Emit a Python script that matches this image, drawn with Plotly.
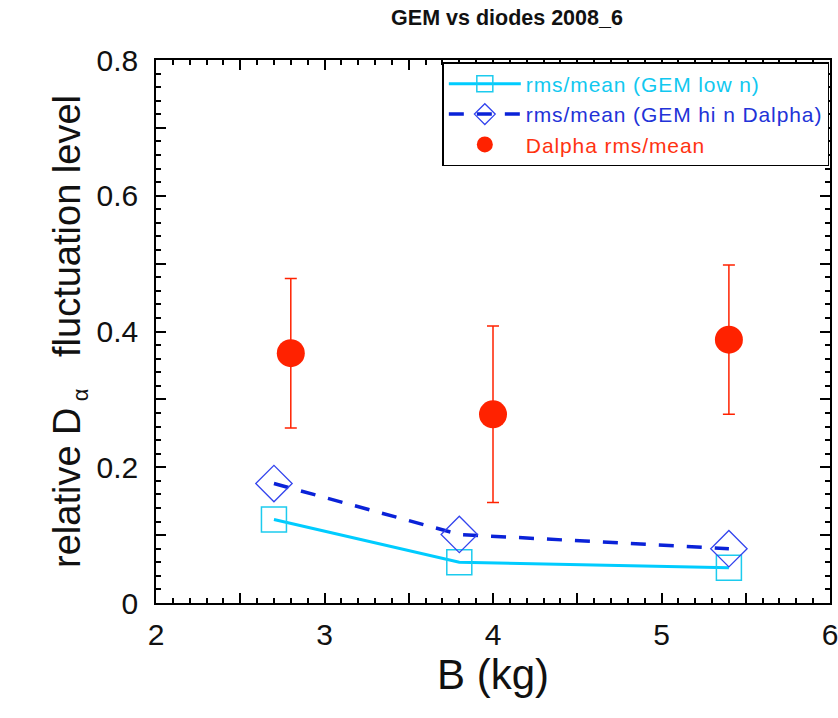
import plotly.graph_objects as go

# Data
b_gem = [2.7, 3.8, 5.4]
gem_low = [0.123, 0.060, 0.052]
gem_hi = [0.176, 0.101, 0.080]

b_diode = [2.8, 4.0, 5.4]
dalpha = [0.368, 0.278, 0.388]
dalpha_err = [0.11, 0.13, 0.11]

x_tickvals = [2, 2.5, 3, 3.5, 4, 4.5, 5, 5.5, 6]
x_ticktext = ["2", "", "3", "", "4", "", "5", "", "6"]
y_tickvals = [0, 0.1, 0.2, 0.3, 0.4, 0.5, 0.6, 0.7, 0.8]
y_ticktext = ["0", "", "0.2", "", "0.4", "", "0.6", "", "0.8"]

CYAN = "#00CCFF"
BLUE = "#0A22D8"
RED = "#FF2200"
FONT = "Liberation Sans, Arial, sans-serif"
LS = "letter-spacing:0.9px"

fig = go.Figure()

fig.add_trace(go.Scatter(
    x=b_gem, y=gem_low, mode="lines+markers", legendgroup="a",
    name=f"<span style='color:#11C8F0;{LS}'>rms/mean (GEM low n)</span>",
    line=dict(color=CYAN, width=3),
    marker=dict(symbol="square-open", size=25, color="#1CCBEE", line=dict(width=1.5)),
))
fig.add_trace(go.Scatter(
    x=b_gem, y=gem_hi, mode="lines+markers", legendgroup="b",
    name=f"<span style='color:#2233D8;{LS}'>rms/mean (GEM hi n Dalpha)</span>",
    line=dict(color=BLUE, width=3.5, dash="15px,13px"),
    marker=dict(symbol="diamond-open", size=28, color="#3344EE", line=dict(width=1.3)),
))
fig.add_trace(go.Scatter(
    x=b_diode, y=dalpha, mode="markers", legendgroup="c",
    name=f"<span style='color:#FF3311;{LS}'>Dalpha rms/mean</span>",
    marker=dict(symbol="circle", size=28, color=RED),
    error_y=dict(type="data", array=dalpha_err, color=RED, thickness=1.5, width=6),
))

axis_common = dict(
    showline=True, linecolor="black", linewidth=1.5, mirror="ticks",
    ticks="inside", tickcolor="black", tickwidth=1.5, ticklen=10,
    showgrid=False, zeroline=False, ticklabeloverflow="allow",
    tickfont=dict(family=FONT, size=30, color="#111"),
)

fig.update_xaxes(
    range=[2, 6], tickmode="array", tickvals=x_tickvals, ticktext=x_ticktext,
    minor=dict(dtick=0.1, ticks="inside", ticklen=5, tickcolor="black", tickwidth=1.5, showgrid=False),
    title=dict(text="B (kg)", font=dict(family=FONT, size=42, color="#111"), standoff=8),
    ticklabelstandoff=4,
    **axis_common,
)
fig.update_yaxes(
    range=[0, 0.8], tickmode="array", tickvals=y_tickvals, ticktext=y_ticktext,
    minor=dict(dtick=0.02, ticks="inside", ticklen=5, tickcolor="black", tickwidth=1.5, showgrid=False),
    title=dict(text="relative D<sub><span style='font-size:22px'> α</span></sub>   fluctuation level",
               font=dict(family=FONT, size=38, color="#111"), standoff=4),
    ticklabelstandoff=10,
    **axis_common,
)

fig.update_layout(
    width=838, height=718,
    margin=dict(l=156, r=8, t=60, b=115, autoexpand=False),
    paper_bgcolor="white", plot_bgcolor="white",
    title=dict(text="<b>GEM vs diodes 2008_6</b>", x=0.605, xanchor="center", y=0.976, yanchor="middle",
               font=dict(family="Liberation Sans Narrow, Arial Narrow, Liberation Sans, Arial, sans-serif", size=21.5, color="#111")),
    legend=dict(x=0.999, xanchor="right", y=0.996, yanchor="top",
                bordercolor="black", borderwidth=1.5, bgcolor="white",
                font=dict(family=FONT, size=21),
                itemwidth=72, tracegroupgap=0),
    showlegend=True,
)

fig.write_html("out.html")
